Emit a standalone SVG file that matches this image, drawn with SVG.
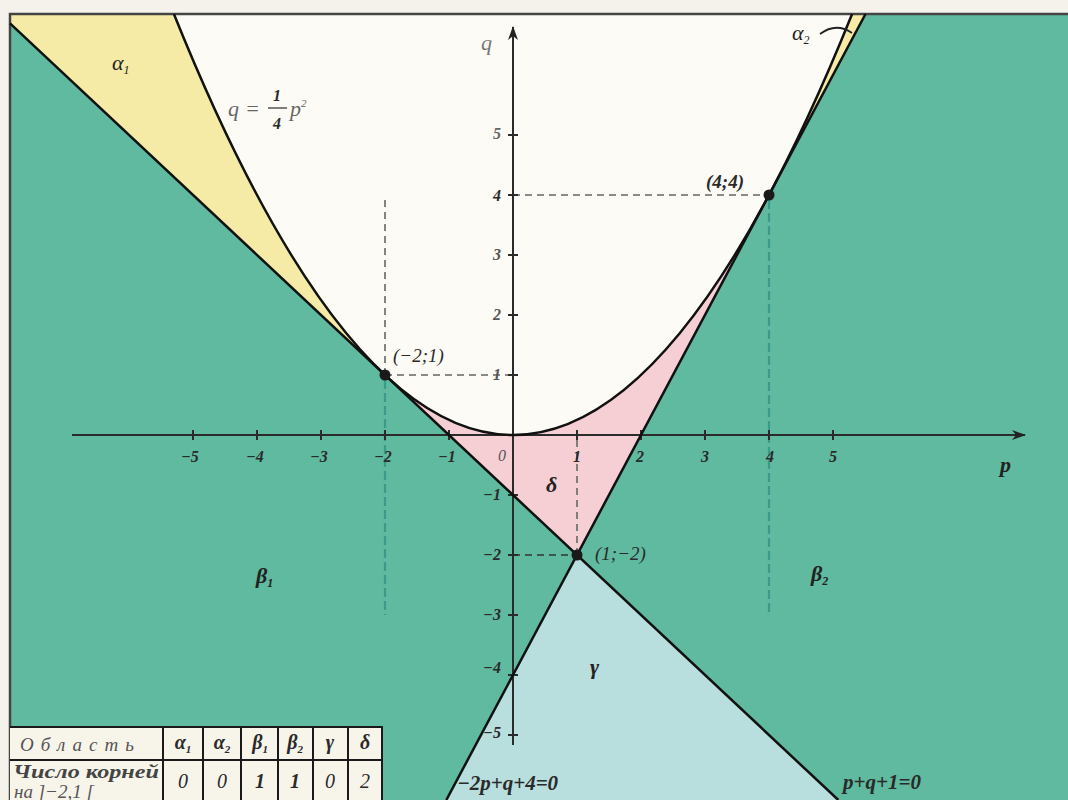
<svg xmlns="http://www.w3.org/2000/svg" width="1068" height="800" viewBox="0 0 1068 800">
<style>
.t{font-family:"Liberation Serif",serif;font-style:italic;fill:#2a2a2a}
.tk{font-family:"Liberation Serif",serif;font-style:italic;font-weight:bold;font-size:16px;fill:#2a2a2a}
.lbl{font-family:"Liberation Serif",serif;font-style:italic;font-size:22px;fill:#222}
.bd{fill:none;stroke:#111;stroke-width:2.5}
.ax{fill:none;stroke:#2b2b2b;stroke-width:2}
.dg{fill:none;stroke:#666;stroke-width:1.6;stroke-dasharray:7 5}
.dt{fill:none;stroke:#3b9a8a;stroke-width:2.2;stroke-dasharray:9 4}
.tb{fill:none;stroke:#1a1a1a;stroke-width:2}
</style>
<defs>
<marker id="ar" markerWidth="14" markerHeight="10" refX="13" refY="5" orient="auto" markerUnits="userSpaceOnUse">
<path d="M0,0 L14,5 L0,10 L4,5 Z" fill="#222"/>
</marker>
<clipPath id="fr"><rect x="10" y="14" width="1058" height="786"/></clipPath>
</defs>
<rect x="0" y="0" width="1068" height="800" fill="#f4f2ea"/>
<g id="regions" clip-path="url(#fr)">
<rect id="beta" x="10" y="14" width="1058" height="786" fill="#5fba9f"/>
<path id="inside" d="M173.9,14 Q513,856 852.1,14 Z" fill="#fdfbf5"/>
<path id="alpha1" d="M10,14 L10,23.4 L385,375 Q279.5,276.1 173.9,14 Z" fill="#f5eaa6"/>
<path id="alpha2" d="M769,195 L865.5,14 L852.1,14 Q810.5,117.1 769,195 Z" fill="#f5eaa6"/>
<path id="delta" d="M385,375 Q577,555 769,195 L577,555 Z" fill="#f6cfd5"/>
<path id="gamma" d="M577,555 L838.3,800 L446.3,800 Z" fill="#b8dede"/>
</g>
<g id="frame">
<path d="M10,800 L10,14 L1068,14" fill="none" stroke="#444" stroke-width="2.5"/>
</g>
<g id="dashes">
<path class="dg" d="M513,195 H769"/>
<path class="dg" d="M385,375 H513"/>
<path class="dg" d="M513,555 H577" style="stroke:#333"/>
<path class="dg" d="M577,440 V555"/>
<path class="dg" d="M385,200 V375"/>
<path class="dt" d="M385,380 V615"/>
<path class="dt" d="M769,200 V615"/>
</g>
<g id="axes">
<path class="ax" d="M72,435 H1025" marker-end="url(#ar)"/>
<path class="ax" d="M513,745 V27" marker-end="url(#ar)"/>
<path class="ax" d="M193,430 v10 M257,430 v10 M321,430 v10 M385,430 v10 M449,430 v10 M577,430 v10 M641,430 v10 M705,430 v10 M769,430 v10 M833,430 v10"/>
<path class="ax" d="M508,135 h10 M508,195 h10 M508,255 h10 M508,315 h10 M508,375 h10 M508,495 h10 M508,555 h10 M508,615 h10 M508,675 h10 M508,735 h10"/>
</g>
<g id="curves">
<path id="parabola" class="bd" d="M173.9,14 Q513,856 852.1,14"/>
<path id="line1" class="bd" d="M10,23.4 L838.3,800"/>
<path id="line2" class="bd" d="M865.5,14 L446.3,800"/>
<path d="M820,34 Q836,22 852,33" fill="none" stroke="#222" stroke-width="1.8"/>
</g>
<g id="points" fill="#1a1a1a">
<circle cx="385" cy="375" r="5.5"/>
<circle cx="769" cy="195" r="5.5"/>
<circle cx="577" cy="555" r="5.5"/>
</g>
<g id="ticklabels" class="tk">
<text x="190" y="462" text-anchor="middle">−5</text>
<text x="255" y="462" text-anchor="middle">−4</text>
<text x="319" y="462" text-anchor="middle">−3</text>
<text x="383" y="462" text-anchor="middle">−2</text>
<text x="447" y="462" text-anchor="middle">−1</text>
<text x="502" y="461" text-anchor="middle" style="font-weight:normal;fill:#555">0</text>
<text x="577" y="462" text-anchor="middle">1</text>
<text x="640" y="462" text-anchor="middle">2</text>
<text x="705" y="462" text-anchor="middle">3</text>
<text x="770" y="462" text-anchor="middle">4</text>
<text x="833" y="462" text-anchor="middle">5</text>
<text x="501" y="139" text-anchor="end" style="fill:#666">5</text>
<text x="501" y="201" text-anchor="end">4</text>
<text x="501" y="260" text-anchor="end" style="fill:#555">3</text>
<text x="501" y="320" text-anchor="end" style="fill:#555">2</text>
<text x="501" y="380" text-anchor="end" style="fill:#555">1</text>
<text x="501" y="500" text-anchor="end">−1</text>
<text x="501" y="560" text-anchor="end">−2</text>
<text x="501" y="620" text-anchor="end">−3</text>
<text x="501" y="673" text-anchor="end">−4</text>
<text x="501" y="738" text-anchor="end">−5</text>
</g>
<g id="labels">
<text class="lbl" x="481" y="50" style="fill:#777">q</text>
<text class="lbl" x="1000" y="472" style="font-weight:bold">p</text>
<text class="t" x="393" y="362" font-size="19">(−2;1)</text>
<text class="t" x="706" y="188" font-size="19" style="font-weight:bold">(4;4)</text>
<text class="t" x="595" y="560" font-size="19">(1;−2)</text>
<text class="lbl" x="112" y="70">α<tspan font-size="12" dy="4">1</tspan></text>
<text class="lbl" x="792" y="40">α<tspan font-size="12" dy="4">2</tspan></text>
<text class="lbl" x="256" y="583" style="font-weight:bold">β<tspan font-size="12" dy="4">1</tspan></text>
<text class="lbl" x="811" y="581" style="font-weight:bold">β<tspan font-size="12" dy="4">2</tspan></text>
<text class="lbl" x="590" y="674" style="font-weight:bold">γ</text>
<text class="lbl" x="546" y="492" style="font-weight:bold">δ</text>
<g id="eqparab">
<text class="t" x="228" y="116" font-size="22" style="fill:#666">q</text>
<text class="t" x="245" y="116" font-size="22" style="fill:#666">=</text>
<text class="t" x="277" y="101" font-size="16" text-anchor="middle" style="font-weight:bold">1</text>
<path d="M268,108 H287" stroke="#555" stroke-width="1.5"/>
<text class="t" x="277" y="129" font-size="16" text-anchor="middle" style="font-weight:bold">4</text>
<text class="t" x="290" y="116" font-size="22" style="fill:#666">p<tspan font-size="11" dy="-9">2</tspan></text>
</g>
<text class="t" x="457" y="790" font-size="21" style="font-weight:bold">−2p+q+4=0</text>
<text class="t" x="843" y="789" font-size="21" style="font-weight:bold">p+q+1=0</text>
</g>
<g id="table">
<rect x="10" y="727" width="372" height="80" fill="#f7f4ea"/>
<path class="tb" d="M10,727 H382 V800 M10,760 H382 M163,727 V800 M203,727 V800 M241,727 V800 M278,727 V800 M313,727 V800 M348,727 V800"/>
<text class="t" x="20" y="751" font-size="19" textLength="114" lengthAdjust="spacing" style="fill:#555">Область</text>
<text class="t" x="183" y="749" font-size="20" text-anchor="middle" style="font-weight:bold">α<tspan font-size="11" dy="4">1</tspan></text>
<text class="t" x="222" y="749" font-size="20" text-anchor="middle" style="font-weight:bold">α<tspan font-size="11" dy="4">2</tspan></text>
<text class="t" x="260" y="749" font-size="20" text-anchor="middle" style="font-weight:bold">β<tspan font-size="11" dy="4">1</tspan></text>
<text class="t" x="295" y="749" font-size="20" text-anchor="middle" style="font-weight:bold">β<tspan font-size="11" dy="4">2</tspan></text>
<text class="t" x="330" y="749" font-size="20" text-anchor="middle" style="font-weight:bold">γ</text>
<text class="t" x="365" y="749" font-size="20" text-anchor="middle" style="font-weight:bold">δ</text>
<text class="t" x="13" y="778" font-size="19" textLength="146" lengthAdjust="spacingAndGlyphs" style="font-weight:bold;fill:#444">Число корней</text>
<text class="t" x="14" y="798" font-size="19" style="fill:#555">на ]−2,1 [</text>
<text class="t" x="183" y="788" font-size="20" text-anchor="middle">0</text>
<text class="t" x="222" y="788" font-size="20" text-anchor="middle">0</text>
<text class="t" x="260" y="788" font-size="20" text-anchor="middle" style="font-weight:bold">1</text>
<text class="t" x="295" y="788" font-size="20" text-anchor="middle" style="font-weight:bold">1</text>
<text class="t" x="330" y="788" font-size="20" text-anchor="middle">0</text>
<text class="t" x="365" y="788" font-size="20" text-anchor="middle">2</text>
</g>
</svg>
